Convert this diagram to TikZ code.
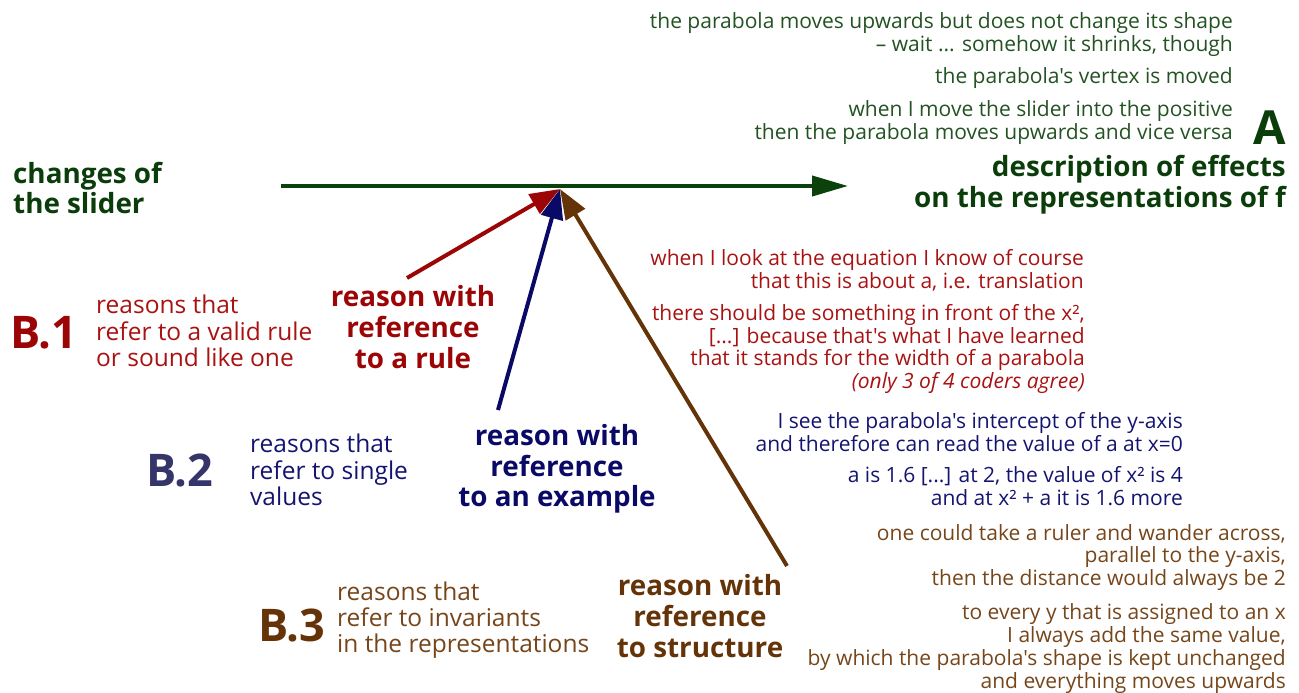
\documentclass[tikz,border=0pt]{standalone}
\usepackage{fontspec}
\setmainfont{Open Sans}[Ligatures=TeXOff]
\usetikzlibrary{arrows.meta}
\definecolor{gsmall}{HTML}{235223}
\definecolor{gbold}{HTML}{0B3D0B}
\definecolor{garrow}{HTML}{0B420B}
\definecolor{rsmall}{HTML}{A81212}
\definecolor{rbold}{HTML}{9B0505}
\definecolor{bsmall}{HTML}{141470}
\definecolor{bbold}{HTML}{0A0A66}
\definecolor{bbig}{HTML}{35356A}
\definecolor{nsmall}{HTML}{76461A}
\definecolor{nbold}{HTML}{643408}
\tikzset{
  quote/.style={inner sep=0pt, align=right, anchor=east, font=\fontsize{21}{22.7}\selectfont},
  desc/.style={inner sep=0pt, align=left, anchor=west, font=\fontsize{24.5}{26.2}\selectfont},
  reasonlbl/.style={inner sep=0pt, align=center, font=\bfseries\fontsize{27.8}{30.7}\selectfont},
  bigcode/.style={inner sep=0pt, font=\bfseries\fontsize{45}{45}\selectfont},
  conn/.style={line width=4pt, -{Triangle[length=30pt,width=22pt]}},
}
\begin{document}
\begin{tikzpicture}[x=1pt,y=-1pt]
\useasboundingbox (0,0) rectangle (1299,693);
% A
\node[quote, text=gsmall] (g1) at (1233,34.5) {the parabola moves upwards but does not change its shape\\– wait ... somehow it shrinks, though};
\node[quote, text=gsmall] (g2) at (1233,78) {the parabola's vertex is moved};
\node[quote, text=gsmall] (g3) at (1233,122.5) {when I move the slider into the positive\\then the parabola moves upwards and vice versa};
\node[inner sep=0pt, text=gbold, font=\bfseries\fontsize{47}{47}\selectfont] (A) at (1270,128) {A};
\node[reasonlbl, align=right, anchor=east, text=gbold] (descr) at (1286,184.5) {description of effects\\on the representations of f};
\node[reasonlbl, align=left, anchor=west, text=gbold] (changes) at (13,188) {changes of\\the slider};
% B.1
\node[bigcode, text=rbold] (B1) at (44,333) {B.1};
\node[desc, text=rsmall] (b1t) at (96,331) {reasons that\\refer to a valid rule\\or sound like one};
\node[reasonlbl, text=rbold] (rule) at (413,327) {reason with\\reference\\to a rule};
\node[quote, text=rsmall] (r1) at (1084,270.5) {when I look at the equation I know of course\\that this is about a, i.e. translation};
\node[quote, text=rsmall] (r2) at (1085,349) {there should be something in front of the x²,\\{[...]} because that's what I have learned\\that it stands for the width of a parabola\\\textit{(only 3 of 4 coders agree)}};
% B.2
\node[bigcode, text=bbig] (B2) at (180,470) {B.2};
\node[desc, text=bsmall] (b2t) at (250,470) {reasons that\\refer to single\\values};
\node[reasonlbl, text=bbold] (example) at (557,469) {reason with\\reference\\to an example};
\node[quote, text=bsmall] (bl1) at (1183,432) {I see the parabola's intercept of the y-axis\\and therefore can read the value of a at x=0};
\node[quote, text=bsmall] (bl2) at (1183,486) {a is 1.6 [...] at 2, the value of x² is 4\\and at x² + a it is 1.6 more};
% B.3
\node[bigcode, text=nbold] (B3) at (292,625) {B.3};
\node[desc, text=nsmall] (b3t) at (337,620) {reasons that\\refer to invariants\\in the representations};
\node[reasonlbl, text=nbold] (structure) at (700,616) {reason with\\reference\\to structure};
\node[quote, text=nsmall] (n1) at (1286,557.5) {one could take a ruler and wander across,\\parallel to the y-axis, \\then the distance would always be 2};
\node[quote, text=nsmall] (n2) at (1286,648.5) {to every y that is assigned to an x\\I always add the same value,\\by which the parabola's shape is kept unchanged\\and everything moves upwards};
% connectors
\coordinate (hs) at (281,186);
\coordinate (he) at (848,186);
\coordinate (p) at (560,189);
\coordinate (rs) at (407,278);
\coordinate (bs) at (498,410);
\coordinate (ns) at (787,566);
\draw[conn, garrow, -{Triangle[length=36pt,width=20pt]}] (hs) -- (he);
\draw[conn, rbold] (rs) -- (p);
\draw[conn, bbold] (bs) -- (p);
\draw[conn, nbold] (ns) -- (p);
\end{tikzpicture}
\end{document}
